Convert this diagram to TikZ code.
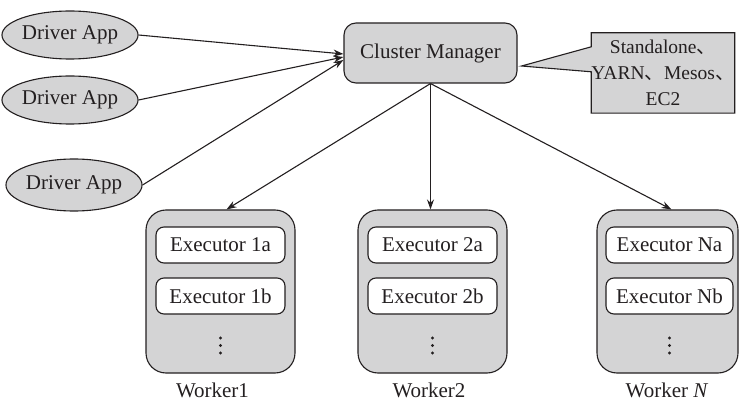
\documentclass[tikz,border=0pt]{standalone}
\usepackage{fontspec}
\setmainfont{Liberation Serif}
\newfontfamily\cjk{Noto Sans CJK SC}
\usetikzlibrary{shapes.geometric,arrows.meta,calc,backgrounds}
\definecolor{ink}{RGB}{35,31,32}
\definecolor{boxgray}{RGB}{212,212,213}
% full-width enumeration comma
\newcommand{\dunhao}{{\cjk 、}}

\begin{document}
\begin{tikzpicture}[x=1pt,y=-1pt,
  every node/.style={font=\fontsize{21}{26}\selectfont, text=ink},
  shapeline/.style={draw=ink, line width=1.1pt},
  driver/.style={shapeline, ellipse, fill=boxgray, minimum width=126pt,
    minimum height=48pt, inner sep=0pt},
  manager/.style={shapeline, rectangle, rounded corners=12pt, fill=boxgray,
    minimum width=173pt, minimum height=60pt, inner sep=0pt},
  worker/.style={shapeline, rectangle, rounded corners=20pt, fill=boxgray,
    minimum height=163pt, inner sep=0pt},
  executor/.style={shapeline, rectangle, rounded corners=8pt, fill=white,
    minimum height=36pt, inner sep=0pt},
  dot/.style={circle, fill=ink, inner sep=0pt, minimum size=3.4pt},
  conn/.style={draw=ink, line width=1.1pt, -{Stealth[length=10pt,width=7pt]}}
]
\useasboundingbox (0,0) rectangle (740,401);

% driver programs
\node[driver] (d1) at (70,35) {Driver App};
\node[driver] (d2) at (70,100) {Driver App};
\node[driver, minimum height=52pt] (d3) at (74,185) {Driver App};

% cluster manager
\node[manager] (cm) at (430.5,53) {Cluster Manager};

% callout listing the manager types
\node[align=center, minimum width=142pt, minimum height=80pt, inner sep=0pt,
  font=\fontsize{19.5}{26}\selectfont]
  (ct) at (663,73) {Standalone\dunhao\\YARN\dunhao Mesos\dunhao\\EC2};
\coordinate (tip) at ($(cm.east)+(4,13)$);
\begin{pgfonlayer}{background}
  \draw[shapeline, fill=boxgray, line join=miter]
    (ct.north west) -- (ct.north east) -- (ct.south east) -- (ct.south west)
    -- ($(ct.north west)+(0,39)$) -- (tip) -- ($(ct.north west)+(0,14)$) -- cycle;
\end{pgfonlayer}

% worker nodes
\node[worker, minimum width=149pt] (w1) at (220.5,291.5) {};
\node[worker, minimum width=149pt] (w2) at (432.5,291.5) {};
\node[worker, minimum width=141pt] (wn) at (667.5,291.5) {};

\node[executor, minimum width=129pt] (e1a) at (220.5,245) {Executor 1a};
\node[executor, minimum width=129pt] (e1b) at (220.5,296) {Executor 1b};
\node[executor, minimum width=129pt] (e2a) at (432.5,245) {Executor 2a};
\node[executor, minimum width=129pt] (e2b) at (432.5,296) {Executor 2b};
\node[executor, minimum width=127pt] (ena) at (669.5,245) {Executor Na};
\node[executor, minimum width=127pt] (enb) at (669.5,296) {Executor Nb};

% vertical ellipses: more executors
\foreach \w/\x in {1/220.5, 2/432.5, n/669.5}{
  \node[dot] (v\w a) at (\x,338) {};
  \node[dot] (v\w b) at (\x,345.5) {};
  \node[dot] (v\w c) at (\x,353) {};
}

\node (l1) at (212.5,390) {Worker1};
\node (l2) at (429,390) {Worker2};
\node (ln) at (667,390) {Worker \textit{N}};

% connectors
\draw[conn] (d1.east) -- ($(cm.west)+(0,1)$);
\draw[conn] (d2.east) -- ($(cm.west)+(0,4)$);
\draw[conn] (d3.east) -- ($(cm.west)+(0,7)$);
\draw[conn] (cm.south) -- ([xshift=6pt]w1.north);
\draw[conn] (cm.south) -- ([xshift=-2pt]w2.north);
\draw[conn] (cm.south) -- ([xshift=4pt]wn.north);
\end{tikzpicture}
\end{document}
